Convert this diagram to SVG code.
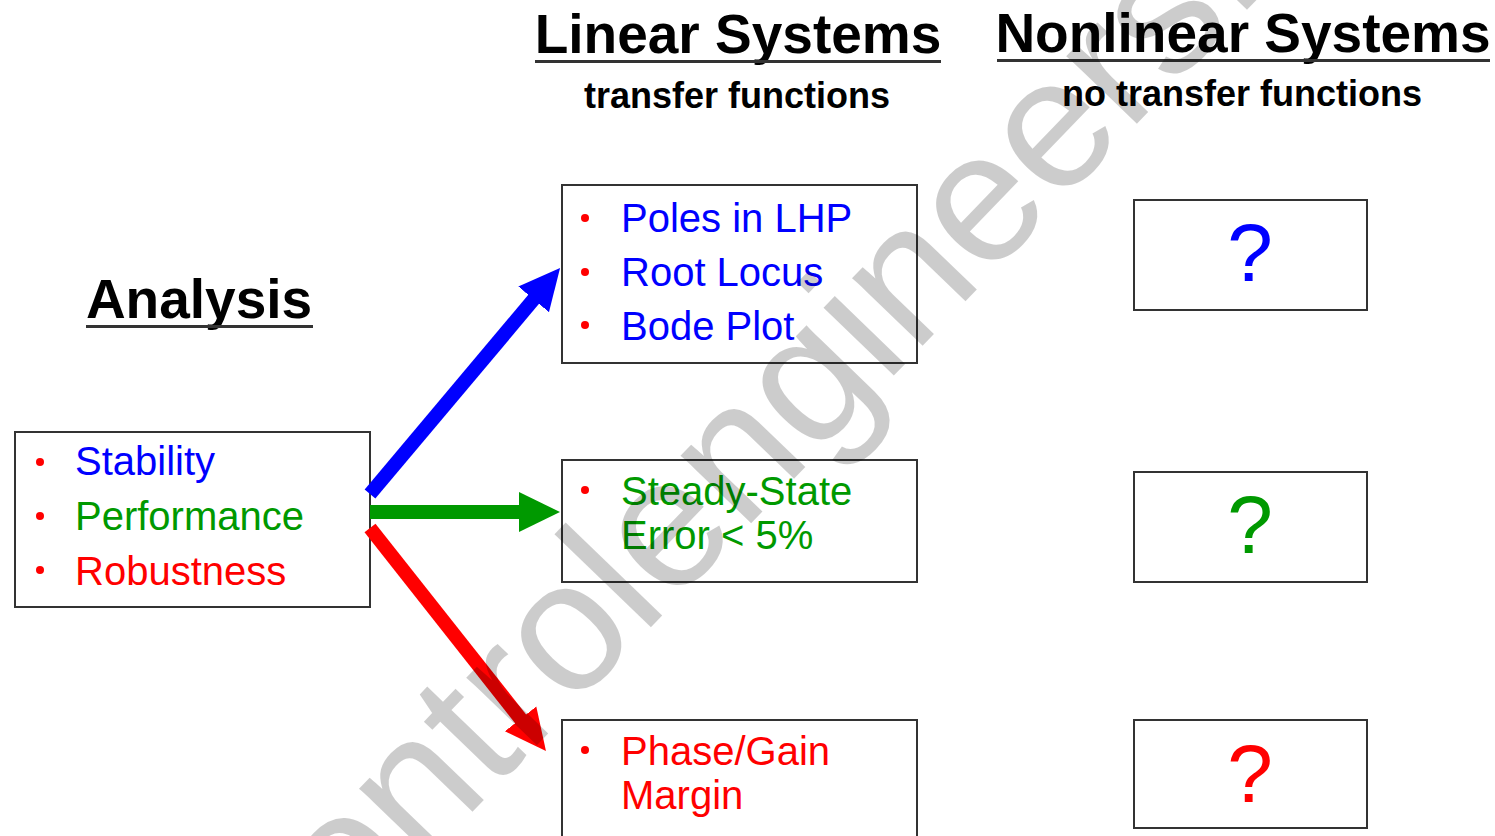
<svg xmlns="http://www.w3.org/2000/svg" width="1495" height="836" viewBox="0 0 1495 836">
<defs>
<style>
text{font-family:"Liberation Sans",Arial,sans-serif}
.title{font-size:55px;font-weight:bold;fill:#000;text-anchor:middle}
.sub{font-size:36px;font-weight:bold;fill:#000;text-anchor:middle}
.ul{stroke:#333;stroke-width:3}
.box{fill:#fff;stroke:#333;stroke-width:2}
.item{font-size:40px}
.q{font-size:82px;text-anchor:middle}
.dot{fill:#ff0000}
.blue{fill:#0000ff}
.green{fill:#009900}
.red{fill:#ff0000}
.wm{font-size:185px;fill:#000;fill-opacity:0.2}
</style>
<marker id="ah-blue" markerUnits="userSpaceOnUse" markerWidth="42" markerHeight="42" viewBox="0 0 42 42" refX="1" refY="21" orient="auto"><path d="M0,1 L41,21 L0,41 z" fill="#0000ff"/></marker>
<marker id="ah-green" markerUnits="userSpaceOnUse" markerWidth="42" markerHeight="42" viewBox="0 0 42 42" refX="1" refY="21" orient="auto"><path d="M0,1 L41,21 L0,41 z" fill="#009900"/></marker>
<marker id="ah-red" markerUnits="userSpaceOnUse" markerWidth="42" markerHeight="42" viewBox="0 0 42 42" refX="1" refY="21" orient="auto"><path d="M0,1 L41,21 L0,41 z" fill="#ff0000"/></marker>
</defs>
<rect width="1495" height="836" fill="#fff"/>

<g id="header-linear">
<text class="title" x="738" y="53">Linear Systems</text>
<line class="ul" x1="535" y1="61.5" x2="941" y2="61.5"/>
<text class="sub" x="737" y="108">transfer functions</text>
</g>
<g id="header-nonlinear">
<text class="title" x="1243" y="52">Nonlinear Systems</text>
<line class="ul" x1="997" y1="60.5" x2="1490" y2="60.5"/>
<text class="sub" x="1242" y="106">no transfer functions</text>
</g>
<g id="header-analysis">
<text class="title" x="199" y="318">Analysis</text>
<line class="ul" x1="86" y1="326.5" x2="313" y2="326.5"/>
</g>

<g id="analysis-box">
<rect class="box" x="15" y="432" width="355" height="175"/>
<circle class="dot" cx="40" cy="462" r="4"/>
<circle class="dot" cx="40" cy="516" r="4"/>
<circle class="dot" cx="40" cy="570" r="4"/>
<text class="item blue" x="75" y="475">Stability</text>
<text class="item green" x="75" y="530">Performance</text>
<text class="item red" x="75" y="585">Robustness</text>
</g>

<g id="linear-stability">
<rect class="box" x="562" y="185" width="355" height="178"/>
<circle class="dot" cx="585" cy="218" r="4"/>
<circle class="dot" cx="585" cy="272" r="4"/>
<circle class="dot" cx="585" cy="325" r="4"/>
<text class="item blue" x="621" y="232">Poles in LHP</text>
<text class="item blue" x="621" y="286">Root Locus</text>
<text class="item blue" x="621" y="340">Bode Plot</text>
</g>

<g id="linear-performance">
<rect class="box" x="562" y="460" width="355" height="122"/>
<circle class="dot" cx="585" cy="490" r="4"/>
<text class="item green" x="621" y="505">Steady-State</text>
<text class="item green" x="621" y="549">Error &lt; 5%</text>
</g>

<g id="linear-robustness">
<rect class="box" x="562" y="720" width="355" height="130"/>
<circle class="dot" cx="585" cy="750" r="4"/>
<text class="item red" x="621" y="765">Phase/Gain</text>
<text class="item red" x="621" y="809">Margin</text>
</g>

<g id="nonlinear-stability">
<rect class="box" x="1134" y="200" width="233" height="110"/>
<text class="q blue" x="1250" y="281">?</text>
</g>
<g id="nonlinear-performance">
<rect class="box" x="1134" y="472" width="233" height="110"/>
<text class="q green" x="1250" y="553">?</text>
</g>
<g id="nonlinear-robustness">
<rect class="box" x="1134" y="720" width="233" height="108"/>
<text class="q red" x="1250" y="802">?</text>
</g>

<g id="connectors" fill="none" stroke-width="14">
<line x1="370" y1="494" x2="534.3" y2="298.6" stroke="#0000ff" marker-end="url(#ah-blue)"/>
<line x1="370" y1="512" x2="520" y2="512" stroke="#009900" marker-end="url(#ah-green)"/>
<line x1="370" y1="528" x2="521.2" y2="719.6" stroke="#ff0000" marker-end="url(#ah-red)"/>
</g>

<g id="watermark">
<text class="wm" transform="translate(285,1006) rotate(-46)">controlengineers.ws</text>
</g>
</svg>
